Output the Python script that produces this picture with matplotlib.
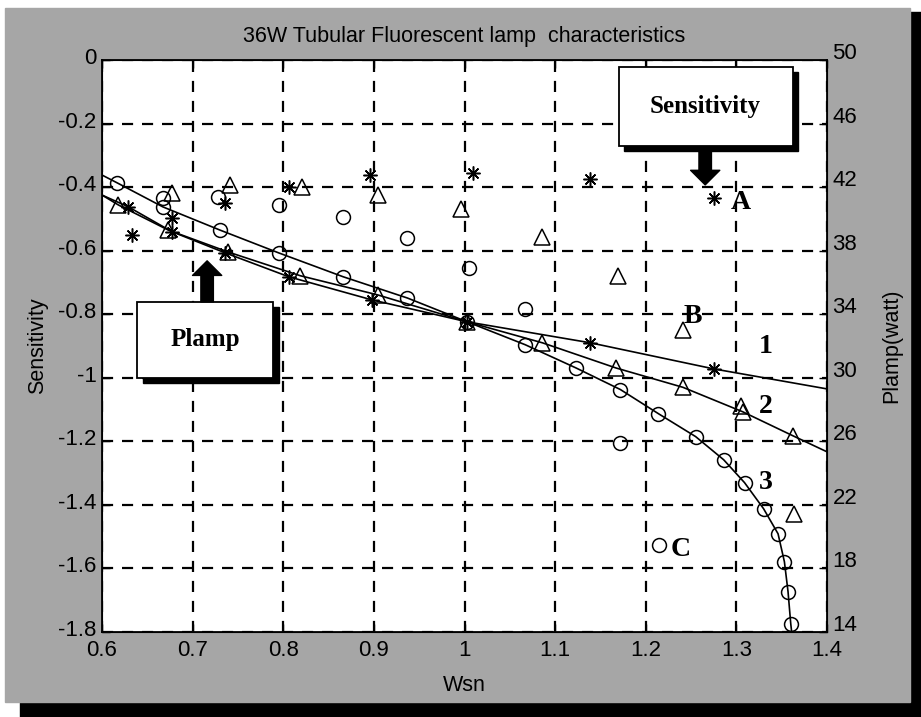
import numpy as np
import matplotlib.pyplot as plt
import matplotlib.transforms as mtransforms
from matplotlib.patches import Rectangle

# ---------------- Data ----------------
# Plamp curves (right axis, watt) - markers
wsn_1 = [0.629, 0.677, 0.736, 0.806, 0.898, 1.003, 1.139, 1.275]
plamp_1 = [40.76, 39.2, 37.86, 36.36, 34.9, 33.52, 32.2, 30.56]

wsn_2 = [0.618, 0.673, 0.739, 0.819, 0.904, 1.003, 1.086, 1.167, 1.241, 1.307, 1.362]
plamp_2 = [40.88, 39.3, 37.92, 36.42, 35.22, 33.52, 32.2, 30.62, 29.4, 27.86, 26.36]

wsn_3 = [0.617, 0.667, 0.730, 0.795, 0.866, 0.937, 1.003, 1.067, 1.123, 1.172,
         1.214, 1.255, 1.286, 1.309, 1.330, 1.346, 1.353, 1.357, 1.360]
plamp_3 = [42.26, 40.76, 39.3, 37.86, 36.36, 35.02, 33.52, 32.08, 30.62, 29.26,
           27.74, 26.3, 24.84, 23.4, 21.76, 20.18, 18.42, 16.54, 14.52]

# where the drawn curves run out to the plot edges
ends_1 = [(0.6, 41.5), (1.4, 29.3)]
ends_2 = [(0.6, 41.5), (1.4, 25.34)]
ends_3 = [(0.6, 42.76), (1.361, 14.0)]

# Sensitivity points (left axis)
wsn_a = [0.633, 0.677, 0.736, 0.806, 0.896, 1.009, 1.139, 1.275]
sens_a = [-0.55, -0.497, -0.45, -0.40, -0.362, -0.356, -0.375, -0.435]

wsn_b = [0.677, 0.741, 0.821, 0.905, 0.996, 1.086, 1.169, 1.241, 1.305, 1.364]
sens_b = [-0.42, -0.393, -0.40, -0.425, -0.47, -0.556, -0.680, -0.849, -1.09, -1.43]

wsn_c = [0.667, 0.728, 0.795, 0.866, 0.937, 1.005, 1.067, 1.172, 1.215]
sens_c = [-0.434, -0.43, -0.456, -0.493, -0.560, -0.655, -0.784, -1.204, -1.525]

x_ticks = [0.6, 0.7, 0.8, 0.9, 1.0, 1.1, 1.2, 1.3, 1.4]
x_ticklabels = ['0.6', '0.7', '0.8', '0.9', '1', '1.1', '1.2', '1.3', '1.4']
y_ticks = [0, -0.2, -0.4, -0.6, -0.8, -1.0, -1.2, -1.4, -1.6, -1.8]
y_ticklabels = ['0', '-0.2', '-0.4', '-0.6', '-0.8', '-1', '-1.2', '-1.4', '-1.6', '-1.8']
p_ticks = [14, 18, 22, 26, 30, 34, 38, 42, 46, 50]

# ---------------- Figure ----------------
plt.rcParams['font.family'] = ['Liberation Sans', 'DejaVu Sans']
gray = '#a6a6a6'

fig = plt.figure(figsize=(9.21, 7.17), dpi=100, facecolor='white')
# scan shadow + grey panel
fig.patches.append(Rectangle((20 / 921, 0), 1 - 20 / 921, 1 - 12 / 717,
                             transform=fig.transFigure, color='black', zorder=-3))
fig.patches.append(Rectangle((5 / 921, 15 / 717), 905 / 921, 1 - 15 / 717 - 8 / 717,
                             transform=fig.transFigure, color=gray, zorder=-2))

ax = fig.add_axes([102 / 921, 1 - 632 / 717, 725 / 921, 572 / 717])
ax.set_facecolor('white')
ax.set_xlim(0.6, 1.4)
ax.set_ylim(-1.8, 0)
ax.set_xticks(x_ticks)
ax.set_xticklabels(x_ticklabels)
ax.set_yticks(y_ticks)
ax.set_yticklabels(y_ticklabels)
ax.tick_params(direction='in', length=6, width=1, labelsize=16, pad=4, top=True)
ax.tick_params(axis='x', pad=6)
ax.grid(True, color='black', linestyle=(0, (5, 4)), linewidth=1.6)
for sp in ax.spines.values():
    sp.set_linewidth(1.3)

ax.set_xlabel('Wsn', fontsize=15.5, labelpad=10)
ax.set_ylabel('Sensitivity', fontsize=15.5, labelpad=7)
ax.set_title('36W Tubular Fluorescent lamp  characteristics', fontsize=15.5, pad=13)

# sensitivity scatter
mk = dict(linestyle='none', color='black', markerfacecolor='none', markeredgewidth=1.1)
ax.plot(wsn_a, sens_a, marker=(8, 2, 0), markersize=10, **mk)
ax.plot(wsn_b, sens_b, marker='^', markersize=12, **mk)
ax.plot(wsn_c, sens_c, marker='o', markersize=10, **mk)

# Plamp on right axis
ax2 = ax.twinx()
ax2.set_ylim(14, 50)
ax2.set_yticks(p_ticks)
ax2.tick_params(direction='in', length=6, width=1, labelsize=16, pad=4)
ax2.set_ylabel('Plamp(watt)', fontsize=15.5, rotation=90, labelpad=17)

# tick labels sit a little above their ticks in the original
up_l = mtransforms.ScaledTranslation(0, 4 / 100, fig.dpi_scale_trans)
up_r = mtransforms.ScaledTranslation(0, 9 / 100, fig.dpi_scale_trans)
for lab in ax.get_yticklabels():
    lab.set_transform(lab.get_transform() + up_l)
for lab in ax2.get_yticklabels():
    lab.set_transform(lab.get_transform() + up_r)

for xs, ps, ends, m, ms in [(wsn_1, plamp_1, ends_1, (8, 2, 0), 10),
                            (wsn_2, plamp_2, ends_2, '^', 12),
                            (wsn_3, plamp_3, ends_3, 'o', 10)]:
    cx = [ends[0][0]] + xs + [ends[1][0]]
    cp = [ends[0][1]] + ps + [ends[1][1]]
    ax2.plot(cx, cp, color='black', linewidth=1.2)
    ax2.plot(xs, ps, marker=m, markersize=ms, **mk)

# callout boxes (placed in sensitivity coords)
serif = ['Liberation Serif', 'DejaVu Serif']
dx, dy = 0.0065, 0.016
for (x0, x1, y0, y1, txt) in [(1.170, 1.362, -0.270, -0.022, 'Sensitivity'),
                              (0.639, 0.789, -1.000, -0.761, 'Plamp')]:
    ax2.add_patch(Rectangle((x0 + dx, y0 - dy), x1 - x0, y1 - y0, transform=ax.transData,
                            facecolor='black', edgecolor='black', zorder=5))
    ax2.add_patch(Rectangle((x0, y0), x1 - x0, y1 - y0, transform=ax.transData,
                            facecolor='white', edgecolor='black', linewidth=1.3, zorder=6))
    ax2.text((x0 + x1) / 2, (y0 + y1) / 2, txt, transform=ax.transData, ha='center',
             va='center', fontsize=18, fontweight='bold', family=serif, zorder=7)

arrow = dict(arrowstyle='simple,head_length=0.35,head_width=0.7,tail_width=0.3',
             fc='black', ec='black', shrinkA=0, shrinkB=0, mutation_scale=30)
ax2.annotate('', xy=(1.2656, -0.393), xytext=(1.2656, -0.278), xycoords=ax.transData,
             textcoords=ax.transData, arrowprops=arrow, zorder=7)
ax2.annotate('', xy=(0.716, -0.632), xytext=(0.716, -0.761), xycoords=ax.transData,
             textcoords=ax.transData, arrowprops=arrow, zorder=7)

for (x, y, t) in [(1.305, -0.447, 'A'), (1.252, -0.808, 'B'), (1.238, -1.541, 'C'),
                  (1.332, -0.903, '1'), (1.332, -1.091, '2'), (1.332, -1.330, '3')]:
    ax2.text(x, y, t, transform=ax.transData, ha='center', va='center', fontsize=20,
             fontweight='bold', family=serif, zorder=7)

fig.savefig('out.png', dpi=100, facecolor=fig.get_facecolor())
